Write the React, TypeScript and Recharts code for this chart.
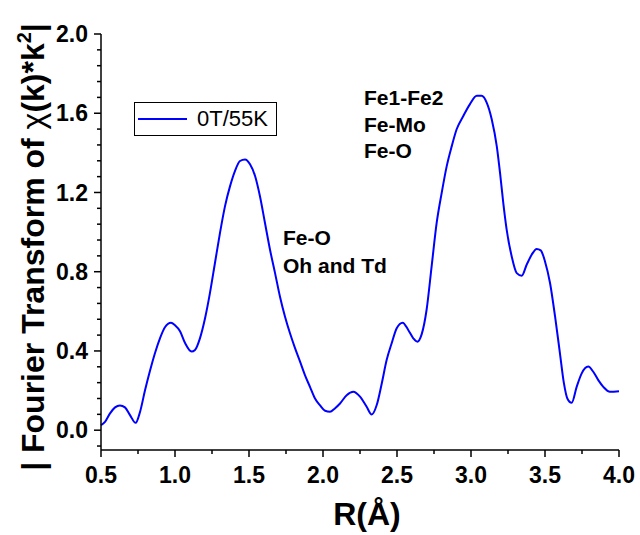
import React from 'react';
import { LineChart, Line, XAxis, YAxis, Legend } from 'recharts';

const FONT = '"Liberation Sans", Arial, sans-serif';
const BLUE = '#0000FF';

// R (Å) and |FT| values
const rValues = [
  0.5, 0.527, 0.561, 0.595, 0.628, 0.662, 0.696, 0.734, 0.764, 0.797,
  0.831, 0.865, 0.899, 0.932, 0.973, 1.0, 1.034, 1.068, 1.112, 1.135,
  1.169, 1.203, 1.236, 1.27, 1.304, 1.338, 1.372, 1.405, 1.439, 1.473,
  1.507, 1.541, 1.574, 1.608, 1.642, 1.676, 1.709, 1.743, 1.777, 1.811,
  1.845, 1.878, 1.912, 1.946, 1.98, 2.014, 2.047, 2.08, 2.115, 2.16,
  2.205, 2.25, 2.295, 2.329, 2.363, 2.397, 2.43, 2.464, 2.498, 2.538,
  2.576, 2.61, 2.637, 2.667, 2.7, 2.734, 2.768, 2.802, 2.836, 2.87,
  2.903, 2.948, 2.993, 3.039, 3.072, 3.106, 3.14, 3.174, 3.196, 3.218,
  3.241, 3.275, 3.309, 3.343, 3.376, 3.41, 3.444, 3.471, 3.5, 3.534,
  3.568, 3.601, 3.628, 3.651, 3.68, 3.714, 3.748, 3.792, 3.826, 3.86,
  3.894, 3.939, 4.0,
];
const ftValues = [
  0.025, 0.042, 0.085, 0.115, 0.125, 0.115, 0.076, 0.037, 0.093, 0.2,
  0.3, 0.39, 0.465, 0.52, 0.543, 0.53, 0.5, 0.44, 0.397, 0.405,
  0.465, 0.565, 0.692, 0.844, 0.996, 1.131, 1.232, 1.308, 1.359, 1.367,
  1.342, 1.283, 1.181, 1.046, 0.911, 0.793, 0.675, 0.574, 0.489, 0.414,
  0.346, 0.278, 0.219, 0.16, 0.125, 0.098, 0.093, 0.11, 0.135, 0.177,
  0.194, 0.169, 0.118, 0.079, 0.127, 0.236, 0.354, 0.439, 0.515, 0.543,
  0.506, 0.464, 0.447, 0.485, 0.608, 0.827, 1.046, 1.198, 1.333, 1.434,
  1.519, 1.586, 1.646, 1.688, 1.688, 1.654, 1.57, 1.434, 1.3, 1.148,
  1.013, 0.877, 0.793, 0.78, 0.835, 0.886, 0.915, 0.908, 0.852, 0.743,
  0.574, 0.388, 0.236, 0.16, 0.138, 0.219, 0.287, 0.321, 0.295, 0.253,
  0.219, 0.194, 0.197,
];

const xMajorTicks = [0.5, 1.0, 1.5, 2.0, 2.5, 3.0, 3.5, 4.0];
const xMinorTicks = [0.75, 1.25, 1.75, 2.25, 2.75, 3.25, 3.75];
const yMajorTicks = [0, 0.4, 0.8, 1.2, 1.6, 2.0];
const yMinorTicks = [
  -0.08, 0.08, 0.16, 0.24, 0.32, 0.48, 0.56, 0.64, 0.72, 0.88, 0.96,
  1.04, 1.12, 1.28, 1.36, 1.44, 1.52, 1.68, 1.76, 1.84, 1.92,
];

const seriesName = '0T/55K';

const data = rValues.map((r, i) => ({ r, ft: ftValues[i] }));
const xTicks = [...xMajorTicks, ...xMinorTicks].sort((a, b) => a - b);
const yTicks = [...yMajorTicks, ...yMinorTicks].sort((a, b) => a - b);

const isMajor = (v: number, list: number[]) => list.some((m) => Math.abs(m - v) < 1e-6);

const XTick = ({ x, y, payload }: any) => {
  const major = isMajor(payload.value, xMajorTicks);
  return (
    <g>
      <line x1={x} x2={x} y1={y} y2={y + (major ? 7 : 4)} stroke="#000" strokeWidth={1.5} />
      {major && (
        <text x={x} y={y + 33} textAnchor="middle" fontFamily={FONT} fontWeight="bold" fontSize={23} fill="#000">
          {payload.value.toFixed(1)}
        </text>
      )}
    </g>
  );
};

const YTick = ({ x, y, payload }: any) => {
  const major = isMajor(payload.value, yMajorTicks);
  return (
    <g>
      <line x1={x} x2={x - (major ? 7 : 4)} y1={y} y2={y} stroke="#000" strokeWidth={1.5} />
      {major && (
        <text x={x - 13} y={y} dy="0.35em" textAnchor="end" fontFamily={FONT} fontWeight="bold" fontSize={23} fill="#000">
          {payload.value.toFixed(1)}
        </text>
      )}
    </g>
  );
};

const XTitle = ({ viewBox }: any) => (
  <text
    x={viewBox.x + viewBox.width / 2 + 7}
    y={viewBox.y + 75}
    textAnchor="middle"
    fontFamily={FONT}
    fontWeight="bold"
    fontSize={32}
    fill="#000"
  >
    R(Å)
  </text>
);

const YTitle = ({ viewBox }: any) => {
  const cx = viewBox.x + 33;
  const cy = viewBox.y + viewBox.height / 2 + 5;
  return (
    <text
      x={cx}
      y={cy}
      dy="0.35em"
      transform={`rotate(-90 ${cx} ${cy})`}
      textAnchor="middle"
      fontFamily={FONT}
      fontWeight="bold"
      fontSize={32}
      fill="#000"
    >
      | Fourier Transform of <tspan fontWeight="normal">χ</tspan>(k)*k
      <tspan dy={-13} fontSize={20}>2</tspan>
      <tspan dy={13}>|</tspan>
    </text>
  );
};

const LegendBox = () => (
  <div
    style={{
      width: 143,
      height: 34,
      border: '1px solid #000',
      boxSizing: 'border-box',
      display: 'flex',
      alignItems: 'center',
      fontFamily: FONT,
      fontSize: 22,
      color: '#000',
      background: '#fff',
    }}
  >
    <svg width={59} height={10} style={{ marginLeft: 3 }}>
      <line x1={0} x2={49} y1={5} y2={5} stroke={BLUE} strokeWidth={2} />
    </svg>
    <span>{seriesName}</span>
  </div>
);

const annotations = [
  { text: 'Fe-O', x: 283, y: 245 },
  { text: 'Oh and Td', x: 283, y: 273 },
  { text: 'Fe1-Fe2', x: 364, y: 105 },
  { text: 'Fe-Mo', x: 364, y: 132 },
  { text: 'Fe-O', x: 364, y: 158 },
];

export default function App() {
  return (
    <div style={{ position: 'absolute', left: 0, top: 0, width: 640, height: 535, background: '#fff' }}>
      <LineChart width={640} height={535} data={data} margin={{ top: 34, right: 21, bottom: 0, left: 0 }}>
        <XAxis
          dataKey="r"
          type="number"
          domain={[0.5, 4.0]}
          ticks={xTicks}
          interval={0}
          tickSize={0}
          tickMargin={0}
          tickLine={false}
          tick={XTick}
          height={85}
          axisLine={{ stroke: '#000', strokeWidth: 1.5 }}
          label={{ content: XTitle }}
        />
        <YAxis
          type="number"
          domain={[-0.1, 2.0]}
          ticks={yTicks}
          interval={0}
          tickSize={0}
          tickMargin={0}
          tickLine={false}
          tick={YTick}
          width={101}
          axisLine={{ stroke: '#000', strokeWidth: 1.5 }}
          allowDataOverflow
          label={{ content: YTitle }}
        />
        <Legend
          layout="horizontal"
          verticalAlign="middle"
          align="center"
          content={LegendBox}
          wrapperStyle={{ left: 134, top: 102, width: 143, height: 34 }}
        />
        <Line
          type="monotone"
          dataKey="ft"
          name={seriesName}
          stroke={BLUE}
          strokeWidth={2}
          dot={false}
          isAnimationActive={false}
        />
      </LineChart>
      <svg width={640} height={535} style={{ position: 'absolute', left: 0, top: 0, pointerEvents: 'none' }}>
        {annotations.map((a, i) => (
          <text key={i} x={a.x} y={a.y} fontFamily={FONT} fontWeight="bold" fontSize={21} fill="#000">
            {a.text}
          </text>
        ))}
      </svg>
    </div>
  );
}
